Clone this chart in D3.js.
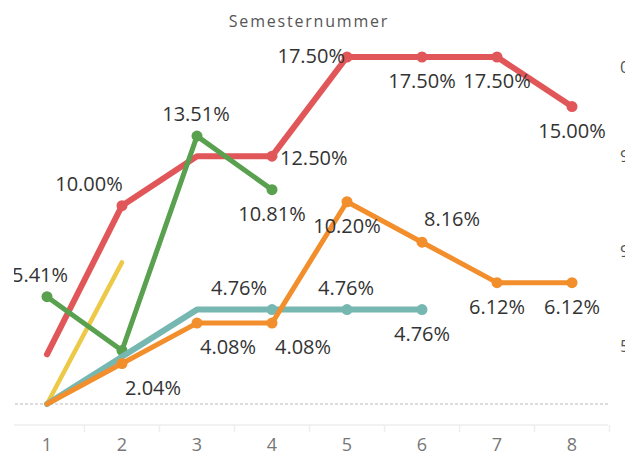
<!doctype html>
<html>
<head>
<meta charset="utf-8">
<title>Semesternummer</title>
<style>
    body { margin: 0; background: #fff; overflow: hidden; }
    svg { display: block; font-family: "Open Sans", sans-serif; }
    .line { fill: none; stroke-linecap: round; stroke-linejoin: round; }
    .lbl { font-size: 20px; fill: #333; }
    .tick-lbl { font-size: 18px; fill: #777; }
</style>
<script src="https://d3js.org/d3.v7.min.js"></script>
</head>
<body>
<svg id="plot" width="631" height="456"></svg>
<script>
// semester numbers on the x axis
const semesters = ["1", "2", "3", "4", "5", "6", "7", "8"];

// values in percent, null where the series has no value
const redValues    = [2.50, 10.00, 12.50, 12.50, 17.50, 17.50, 17.50, 15.00];
const greenValues  = [5.41, 2.70, 13.51, 10.81, null, null, null, null];
const tealValues   = [0, 2.38, 4.76, 4.76, 4.76, 4.76, null, null];
const orangeValues = [0, 2.04, 4.08, 4.08, 10.20, 8.16, 6.12, 6.12];
const yellowValues = [0, 7.14, null, null, null, null, null, null];

// cut off labels of the right axis
const rightAxisLabels = ["0", "9", "9", "5"];
const rightAxisValues = [17.0, 12.5, 7.7, 2.9];

// which points get a dot and a label, and where the label sits
const series = [
    {name: "yellow", values: yellowValues, color: "#EDC948", width: 4.5,
     dots: [], labels: []},
    {name: "red", values: redValues, color: "#E15759", width: 6,
     dots: [1, 3, 4, 5, 6, 7], labels: [[1, "al"], [3, "r"], [4, "l"], [5, "b"], [6, "b"], [7, "b"]]},
    {name: "green", values: greenValues, color: "#59A14F", width: 5,
     dots: [0, 1, 2, 3], labels: [[0, "ak"], [2, "a"], [3, "b"]]},
    {name: "teal", values: tealValues, color: "#76B7B2", width: 6,
     dots: [3, 4, 5], labels: [[3, "al"], [4, "a"], [5, "b"]]},
    {name: "orange", values: orangeValues, color: "#F28E2B", width: 5,
     dots: [1, 2, 3, 4, 5, 6, 7], labels: [[1, "br"], [2, "br"], [3, "br"], [4, "b"], [5, "ar"], [6, "b"], [7, "b"]]}
];

let svg = d3.select("svg");

let x = d3.scalePoint()
    .domain(semesters)
    .range([47, 572]);

let y = d3.scaleLinear()
    .domain([0, 17.5])
    .range([404, 57]);

// pane clips, the reference cuts text at both sides
svg.append("clipPath").attr("id", "pane")
    .append("rect").attr("x", 14).attr("y", 0).attr("width", 617).attr("height", 456);
svg.append("clipPath").attr("id", "rpane")
    .append("rect").attr("x", 0).attr("y", 0).attr("width", 625).attr("height", 456);

// title
svg.append("text")
    .attr("x", 309).attr("y", 27)
    .attr("text-anchor", "middle")
    .style("font-size", "16px")
    .style("letter-spacing", "1.8px")
    .style("fill", "#555")
    .text("Semesternummer");

// zero line
svg.append("line")
    .attr("x1", 15).attr("x2", 608)
    .attr("y1", y(0)).attr("y2", y(0))
    .attr("stroke", "#bbb")
    .attr("stroke-dasharray", "3 2")
    .attr("stroke-width", 1);

// x axis
let xAxis = svg.append("g")
    .attr("transform", "translate(0,425)");
xAxis.append("line")
    .attr("x1", 14).attr("x2", 608)
    .attr("stroke", "#eee").attr("stroke-width", 1.5);
let step = x.step();
let seps = semesters.map(s => x(s) + step / 2);
xAxis.selectAll(".sep")
    .data(seps)
    .join("line")
    .attr("x1", d => d).attr("x2", d => d)
    .attr("y1", 0).attr("y2", 7)
    .attr("stroke", "#eee").attr("stroke-width", 1.5);
xAxis.selectAll(".tick-lbl")
    .data(semesters)
    .join("text")
    .attr("class", "tick-lbl")
    .attr("x", d => x(d))
    .attr("y", 26)
    .attr("text-anchor", "middle")
    .text(d => d);

// right axis, mostly outside the window
svg.append("g").attr("clip-path", "url(#rpane)")
    .selectAll(".raxis")
    .data(rightAxisLabels)
    .join("text")
    .attr("class", "raxis")
    .attr("x", 620)
    .attr("y", (d, i) => y(rightAxisValues[i]) + 6)
    .style("font-size", "17px")
    .style("fill", "#555")
    .text(d => d);

let line = d3.line()
    .defined(d => d[1] !== null)
    .x(d => x(d[0]))
    .y(d => y(d[1]));

let fmt = v => v.toFixed(2) + "%";

for (const s of series) {
    let pts = semesters.map((sem, i) => [sem, s.values[i]]);
    svg.append("path")
        .datum(pts)
        .attr("class", "line")
        .attr("stroke", s.color)
        .attr("stroke-width", s.width)
        .attr("d", line);

    svg.selectAll(".dot-" + s.name)
        .data(s.dots)
        .join("circle")
        .attr("cx", i => x(semesters[i]))
        .attr("cy", i => y(s.values[i]))
        .attr("r", 5.5)
        .attr("fill", s.color);
}

// labels on top of all lines
const offsets = {
    a:  [-1, -15, "middle"],
    ak: [-7, -15, "middle"],
    b:  [0, 31, "middle"],
    l:  [-2, 6, "end"],
    r:  [8, 9, "start"],
    al: [-33, -15, "middle"],
    ar: [30, -16, "middle"],
    br: [31, 31, "middle"]
};
let labels = svg.append("g").attr("clip-path", "url(#pane)");
for (const s of series) {
    labels.selectAll(".lbl-" + s.name)
        .data(s.labels)
        .join("text")
        .attr("class", "lbl")
        .attr("x", d => x(semesters[d[0]]) + offsets[d[1]][0])
        .attr("y", d => y(s.values[d[0]]) + offsets[d[1]][1])
        .attr("text-anchor", d => offsets[d[1]][2])
        .text(d => fmt(s.values[d[0]]));
}
</script>
</body>
</html>
